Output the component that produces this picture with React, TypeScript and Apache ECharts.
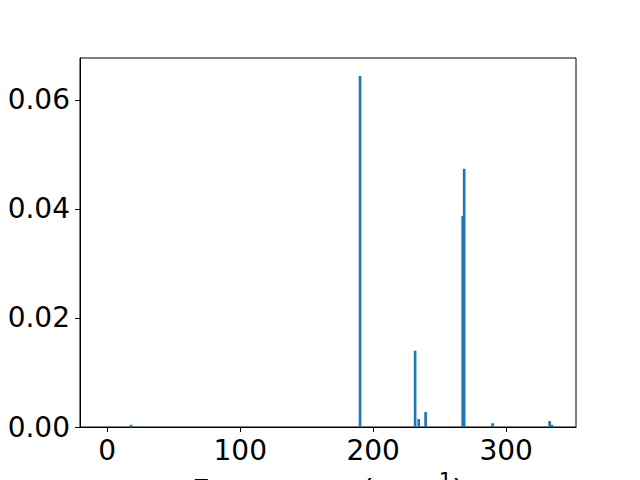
import React, { useEffect, useRef } from "react";
import * as echarts from "echarts";

const frequencies = [17.9, 190.1, 231.5, 234.2, 239.4, 267.3, 268.4, 289.8, 332.7, 334.5];
const intensities = [0.0004, 0.0644, 0.014, 0.00146, 0.00273, 0.0387, 0.0474, 0.0007, 0.0011, 0.0004];
const xTicks = [0, 100, 200, 300];
const yTicks = [0, 0.02, 0.04, 0.06];
const xTitle = "{a|Frequency (cm}{sup|−1}{a|)}";

export default function App() {
  const ref = useRef<HTMLDivElement>(null);
  useEffect(() => {
    if (!ref.current) return;
    const chart = echarts.init(ref.current, null, { renderer: "svg" });
    const barHalf = 1;
    const font = "DejaVu Sans";
    chart.setOption({
      animation: false,
      backgroundColor: "#ffffff",
      textStyle: { fontFamily: font },
      grid: {
        left: 80,
        right: 64,
        top: 58,
        bottom: 53,
        containLabel: false,
        outerBoundsMode: "none",
        show: true,
        borderColor: "#000000",
        borderWidth: 1,
        backgroundColor: "transparent",
      },
      xAxis: {
        type: "value",
        min: -20.5,
        max: 352.5,
        splitLine: { show: false },
        axisLine: { show: true, onZero: false, lineStyle: { color: "#000", width: 1 } },
        axisTick: { show: true, length: 5, inside: false, customValues: xTicks, lineStyle: { color: "#000" } },
        axisLabel: {
          customValues: xTicks,
          fontSize: 28,
          color: "#000",
          fontFamily: font,
          margin: 9,
          formatter: (v: number) => String(v),
        },
        name: xTitle,
        nameLocation: "middle",
        nameGap: 43,
        nameMoveOverlap: false,
        nameTextStyle: {
          color: "#000",
          fontFamily: font,
          verticalAlign: "top",
          rich: {
            a: { fontSize: 31, lineHeight: 35, color: "#000", fontFamily: font, verticalAlign: "bottom" },
            sup: { fontSize: 21, lineHeight: 21, color: "#000", fontFamily: font, verticalAlign: "top" },
          },
        },
      },
      yAxis: {
        type: "value",
        min: 0,
        max: 0.0677,
        splitLine: { show: false },
        axisLine: { show: true, onZero: false, lineStyle: { color: "#000", width: 1 } },
        axisTick: { show: true, length: 5, inside: false, customValues: yTicks, lineStyle: { color: "#000" } },
        axisLabel: {
          customValues: yTicks,
          fontSize: 28,
          color: "#000",
          fontFamily: font,
          margin: 10,
          formatter: (v: number) => v.toFixed(2),
        },
      },
      series: [
        {
          type: "custom",
          data: frequencies.map((f, i) => [f, intensities[i]]),
          renderItem: (params: any, api: any) => {
            const x = api.value(0);
            const y = api.value(1);
            const p1 = api.coord([x - barHalf, y]);
            const p2 = api.coord([x + barHalf, 0]);
            return {
              type: "rect",
              shape: { x: p1[0], y: p1[1], width: p2[0] - p1[0], height: p2[1] - p1[1] },
              style: { fill: "#1f77b4" },
            };
          },
        },
      ],
    });
    return () => chart.dispose();
  }, []);
  return (
    <div
      ref={ref}
      style={{ position: "fixed", left: 0, top: 0, width: 640, height: 480 }}
    />
  );
}
